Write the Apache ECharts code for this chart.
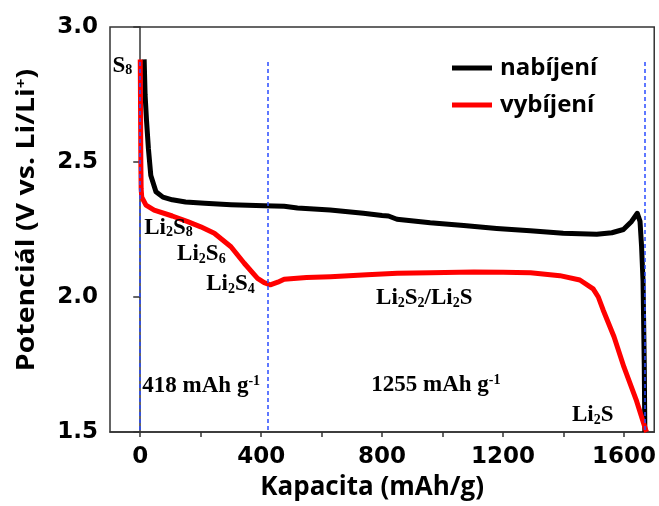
<!DOCTYPE html>
<html>
<head>
<meta charset="utf-8">
<script src="https://cdn.jsdelivr.net/npm/echarts@6/dist/echarts.min.js"></script>
<style>html,body{margin:0;padding:0;background:#fff}#c{width:659px;height:506px}</style>
</head>
<body>
<div id="c"></div>
<script>
// ---- data ----
const chargeCap = [13, 16, 21, 27, 35, 52, 75, 106, 150, 213, 300, 410, 476, 520, 628, 738, 800, 821, 849, 959, 1070, 1179, 1290, 1399, 1510, 1560, 1598, 1625, 1644, 1653, 1658, 1663, 1667, 1669];
const chargeV   = [2.88, 2.75, 2.65, 2.55, 2.45, 2.39, 2.37, 2.36, 2.352, 2.347, 2.342, 2.338, 2.336, 2.33, 2.322, 2.31, 2.302, 2.30, 2.288, 2.275, 2.265, 2.254, 2.245, 2.236, 2.232, 2.238, 2.25, 2.28, 2.31, 2.28, 2.19, 2.06, 1.75, 1.5];
const dischargeCap = [0, 1, 2, 3, 5, 19, 46, 106, 157, 200, 245, 300, 344, 388, 410, 430, 455, 476, 550, 629, 750, 850, 960, 1103, 1200, 1291, 1388, 1454, 1498, 1515, 1531, 1567, 1600, 1640, 1672, 1675];
const dischargeV   = [2.88, 2.70, 2.50, 2.40, 2.37, 2.34, 2.322, 2.30, 2.279, 2.26, 2.236, 2.186, 2.125, 2.069, 2.053, 2.045, 2.055, 2.066, 2.072, 2.075, 2.082, 2.088, 2.09, 2.093, 2.092, 2.09, 2.079, 2.063, 2.03, 2.0, 1.952, 1.853, 1.74, 1.62, 1.507, 1.5];
const seriesNames = ['nabíjení', 'vybíjení'];
const xTickValues = [0, 200, 400, 600, 800, 1000, 1200, 1400, 1600];
const xLabelValues = [0, 400, 800, 1200, 1600];
const dashedCap = [0, 421, 1669];
const annotations = [
  {t: 'S{s|8}', x: -92, y: 2.856},
  {t: 'Li{s|2}S{s|8}', x: 13, y: 2.256},
  {t: 'Li{s|2}S{s|6}', x: 122, y: 2.159},
  {t: 'Li{s|2}S{s|4}', x: 218, y: 2.048},
  {t: 'Li{s|2}S{s|2}/Li{s|2}S', x: 780, y: 1.996},
  {t: '418 mAh g{p|-1}', x: 7, y: 1.670},
  {t: '1255 mAh g{p|-1}', x: 764, y: 1.674},
  {t: 'Li{s|2}S', x: 1428, y: 1.563}
];

const zip = (a, b) => a.map((v, i) => [v, b[i]]);
const chart = echarts.init(document.getElementById('c'));
const annFont = {fontFamily: 'Liberation Serif', fontWeight: 'bold', color: '#000'};
chart.setOption({
  animation: false,
  grid: {left: 110, right: 4, top: 27, bottom: 73, show: true, borderColor: '#333', borderWidth: 1.5, backgroundColor: 'transparent'},
  legend: {
    data: seriesNames, orient: 'vertical', left: 447, top: 51, itemWidth: 40, itemHeight: 5, itemGap: 13, icon: 'rect',
    textStyle: {fontFamily: 'Open Sans', fontWeight: 'bold', fontSize: 24, color: '#000', padding: [0, 0, 0, 3]}
  },
  xAxis: {
    type: 'value', min: -100, max: 1700,
    name: 'Kapacita (mAh/g)', nameLocation: 'middle', nameGap: 43,
    nameTextStyle: {fontFamily: 'Open Sans', fontWeight: 'bold', fontSize: 26, color: '#000', padding: [0, 20, 0, 0]},
    axisLine: {lineStyle: {color: '#333', width: 1.5}},
    axisTick: {show: true, inside: false, length: 5, customValues: xTickValues, lineStyle: {color: '#333', width: 1.5}},
    axisLabel: {customValues: xLabelValues, formatter: v => String(v), margin: 14, fontFamily: 'DejaVu Sans', fontWeight: 'bold', fontSize: 23, color: '#000'},
    splitLine: {show: false}
  },
  yAxis: {
    type: 'value', min: 1.5, max: 3.0, interval: 0.5,
    axisLine: {show: true, lineStyle: {color: '#333', width: 1.5}},
    axisTick: {show: true, inside: false, length: 7, lineStyle: {color: '#333', width: 1.5}},
    axisLabel: {margin: 12, formatter: v => v.toFixed(1), fontFamily: 'DejaVu Sans', fontWeight: 'bold', fontSize: 23, color: '#000'},
    splitLine: {show: false}
  },
  graphic: [{
    type: 'text', x: 27, y: 220, rotation: Math.PI / 2, scaleX: 1.14,
    style: {
      text: 'Potenciál (V vs. Li/Li{sup|+})', align: 'center', verticalAlign: 'middle',
      fontFamily: 'Open Sans', fontWeight: 'bold', fontSize: 25, fill: '#000',
      rich: {sup: {fontFamily: 'Open Sans', fontWeight: 'bold', fontSize: 15, verticalAlign: 'top', lineHeight: 15}}
    }
  }],
  series: [
    {name: seriesNames[0], type: 'line', data: zip(chargeCap, chargeV), showSymbol: false, lineStyle: {color: '#000', width: 5, join: 'round'}, itemStyle: {color: '#000'}, z: 2},
    {name: seriesNames[1], type: 'line', data: zip(dischargeCap, dischargeV), showSymbol: false, lineStyle: {color: '#ff0000', width: 5, join: 'round'}, itemStyle: {color: '#ff0000'}, z: 3},
    {
      name: 'marks', type: 'line', data: [], z: 5,
      markLine: {
        silent: true, symbol: ['none', 'none'],
        lineStyle: {color: '#2a4cff', width: 1.5, type: [4, 3]},
        label: {show: false},
        data: dashedCap.map(c => [{coord: [c, 2.87]}, {coord: [c, 1.5]}])
      },
      markPoint: {
        silent: true, symbol: 'circle', symbolSize: 1, itemStyle: {color: 'rgba(0,0,0,0)'},
        data: annotations.map(a => ({
          coord: [a.x, a.y],
          label: {
            show: true, position: 'inside', align: 'left', verticalAlign: 'middle',
            formatter: a.t, ...annFont, fontSize: 23, lineHeight: 24,
            rich: {
              s: {...annFont, fontSize: 14, lineHeight: 14, verticalAlign: 'bottom'},
              p: {...annFont, fontSize: 14, lineHeight: 14, verticalAlign: 'top'}
            }
          }
        }))
      }
    }
  ]
});
</script>
</body>
</html>
